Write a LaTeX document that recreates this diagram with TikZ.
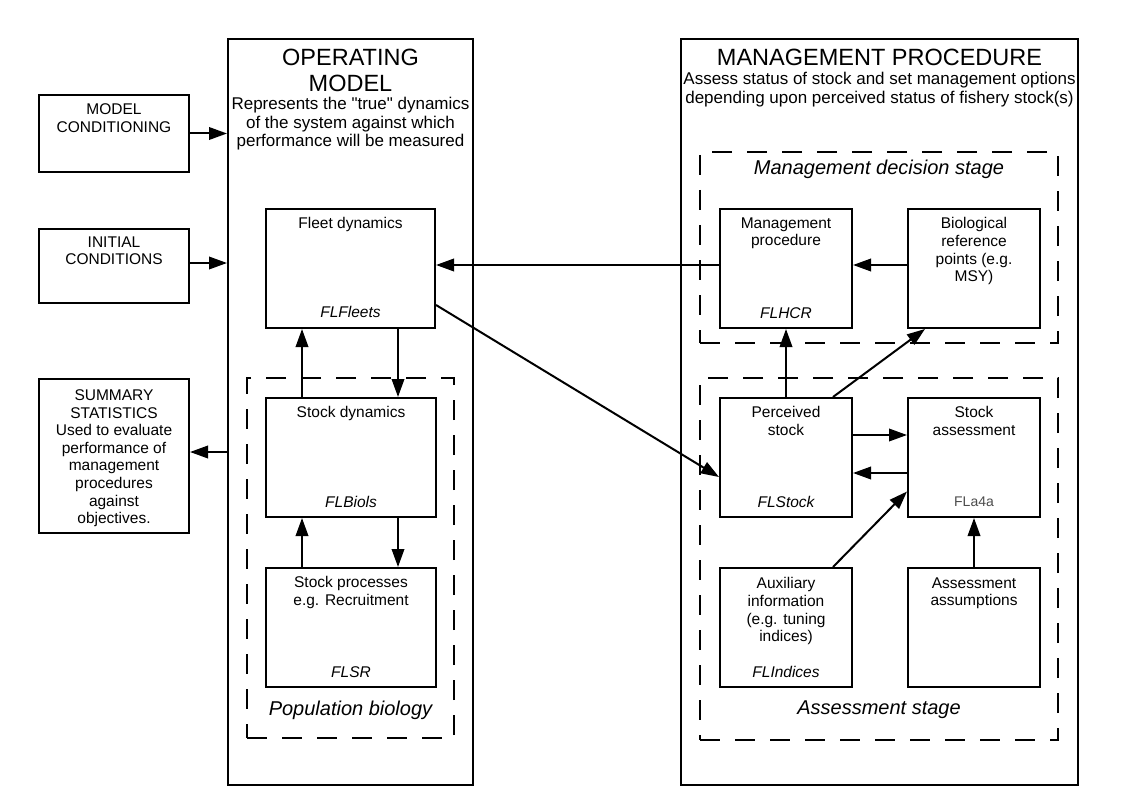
\documentclass[tikz,border=0pt]{standalone}
\usepackage{fontspec}
\setmainfont{Liberation Sans}
\newfontfamily\rawfont{Liberation Sans}
\usetikzlibrary{arrows.meta}
\begin{document}
\begin{tikzpicture}[x=1pt,y=-1pt,
  rbox/.style={draw, line width=2pt, inner sep=0pt, minimum width=#1},
  dbox/.style={draw, line width=2pt, inner sep=0pt, dash pattern=on 20pt off 15pt, minimum width=#1},
  txt/.style={font=\fontsize{15.5}{17.6}\selectfont, align=center, inner sep=0pt, anchor=north},
  cls/.style={font=\fontsize{15.5}{17.6}\selectfont\itshape, inner sep=0pt, anchor=north},
  sub/.style={font=\fontsize{17}{18.6}\selectfont, align=center, inner sep=0pt, anchor=north},
  ttl/.style={font=\fontsize{23.5}{26}\selectfont, align=center, inner sep=0pt, anchor=north},
  stg/.style={font=\fontsize{20}{22}\selectfont\itshape, inner sep=0pt, anchor=north},
  arr/.style={line width=2pt, -{Triangle[length=18pt,width=12.5pt]}}]
\useasboundingbox[fill=white] (0,0) rectangle (1123,794);

% outer boxes
\node[rbox=150, minimum height=77] (mc) at (114,133.5) {};
\node[rbox=150, minimum height=74] (ic) at (114,266) {};
\node[rbox=150, minimum height=154] (ss) at (114,456) {};
\node[rbox=245, minimum height=746] (om) at (350.5,412) {};
\node[rbox=397, minimum height=746] (mp) at (879.5,412) {};

% dashed groups
\node[dbox=207, minimum height=360] (pop) at (350.5,558) {};
\node[dbox=358, minimum height=191] (dec) at (879,247.5) {};
\node[dbox=358, minimum height=362] (ast) at (879,559) {};

% inner boxes
\node[rbox=169, minimum height=119] (fleet) at (350.5,268.5) {};
\node[rbox=170, minimum height=119] (sd) at (351,457.5) {};
\node[rbox=170, minimum height=119] (sp) at (351,627.5) {};
\node[rbox=132, minimum height=119] (mgmt) at (786,268.5) {};
\node[rbox=132, minimum height=119] (bio) at (974,268.5) {};
\node[rbox=132, minimum height=119] (pst) at (786,457.5) {};
\node[rbox=132, minimum height=119] (sa) at (974,457.5) {};
\node[rbox=132, minimum height=119] (aux) at (786,627.5) {};
\node[rbox=132, minimum height=119] (asm) at (974,627.5) {};

% texts
\node[txt] (mct) at (114,103.5) {MODEL\\CONDITIONING};
\node[txt] (ict) at (114,236.5) {INITIAL\\CONDITIONS};
\node[txt] (sst) at (114,389.5) {SUMMARY\\STATISTICS\\Used to evaluate\\performance of\\management\\procedures\\against\\objectives.};
\node[ttl] (omt) at (350.5,48.5) {OPERATING\\MODEL};
\node[sub] (oms) at (350.5,97) {Represents the {\rawfont"}true{\rawfont"} dynamics\\of the system against which\\performance will be measured};
\node[ttl] (mpt) at (879.5,48.5) {MANAGEMENT PROCEDURE};
\node[sub] (mps) at (879.5,72) {Assess status of stock and set management options\\depending upon perceived status of fishery stock(s)};
\node[stg] (dect) at (879,160) {Management decision stage};
\node[stg] (popt) at (350.5,701) {Population biology};
\node[stg] (astt) at (879,701) {Assessment stage};

\node[txt] (fleett) at (350.5,217.5) {Fleet dynamics};
\node[cls] (fleetc) at (350.5,306.5) {FLFleets};
\node[txt] (sdt) at (351,406.5) {Stock dynamics};
\node[cls] (sdc) at (351,496.5) {FLBiols};
\node[txt] (spt) at (351,576.5) {Stock processes\\e.g. Recruitment};
\node[cls] (spc) at (351,666.5) {FLSR};
\node[txt] (mgmtt) at (786,217.5) {Management\\procedure};
\node[cls] (mgmtc) at (786,307.5) {FLHCR};
\node[txt] (biot) at (974,217.5) {Biological\\reference\\points (e.g.\\MSY)};
\node[txt] (pstt) at (786,406.5) {Perceived\\stock};
\node[cls] (pstc) at (786,496.5) {FLStock};
\node[txt] (sat) at (974,406.5) {Stock\\assessment};
\node[font=\fontsize{14}{16}\selectfont, text=black!70, inner sep=0pt, anchor=north] (sac) at (974,497) {FLa4a};
\node[txt] (auxt) at (786,577.5) {Auxiliary\\information\\(e.g. tuning\\indices)};
\node[cls] (auxc) at (786,666.5) {FLIndices};
\node[txt] (asmt) at (974,577.5) {Assessment\\assumptions};

% connectors
\draw[arr] (mc.east) -- (mc.east -| om.west);
\draw[arr] ([yshift=3]ic.east) -- ([yshift=3]ic.east -| om.west);
\draw[arr] ([yshift=4]ss.east -| om.west) -- ([yshift=4]ss.east);
\draw[arr] ([xshift=47.5]fleet.south) -- ([xshift=47]sd.north);
\draw[arr] ([xshift=-49]sd.north) -- ([xshift=-48.5]fleet.south);
\draw[arr] ([xshift=47]sd.south) -- ([xshift=47]sp.north);
\draw[arr] ([xshift=-49]sp.north) -- ([xshift=-49]sd.south);
\draw[arr] ([yshift=3.5]mgmt.west) -- ([yshift=3.5]fleet.east);
\draw[arr] ([yshift=3.5]bio.west) -- ([yshift=3.5]mgmt.east);
\draw[arr] (pst.north) -- (mgmt.south);
\draw[arr] ([xshift=47]pst.north) -- ([xshift=-49]bio.south);
\draw[arr] ([yshift=22.5]pst.east) -- ([yshift=22.5]sa.west);
\draw[arr] ([yshift=-15.5]sa.west) -- ([yshift=-15.5]pst.east);
\draw[arr] ([xshift=47]aux.north) -- ([yshift=-34]sa.west);
\draw[arr] (asm.north) -- (sa.south);
\draw[arr] ([yshift=-36.5]fleet.east) -- ([yshift=-19.5]pst.west);
\end{tikzpicture}
\end{document}
